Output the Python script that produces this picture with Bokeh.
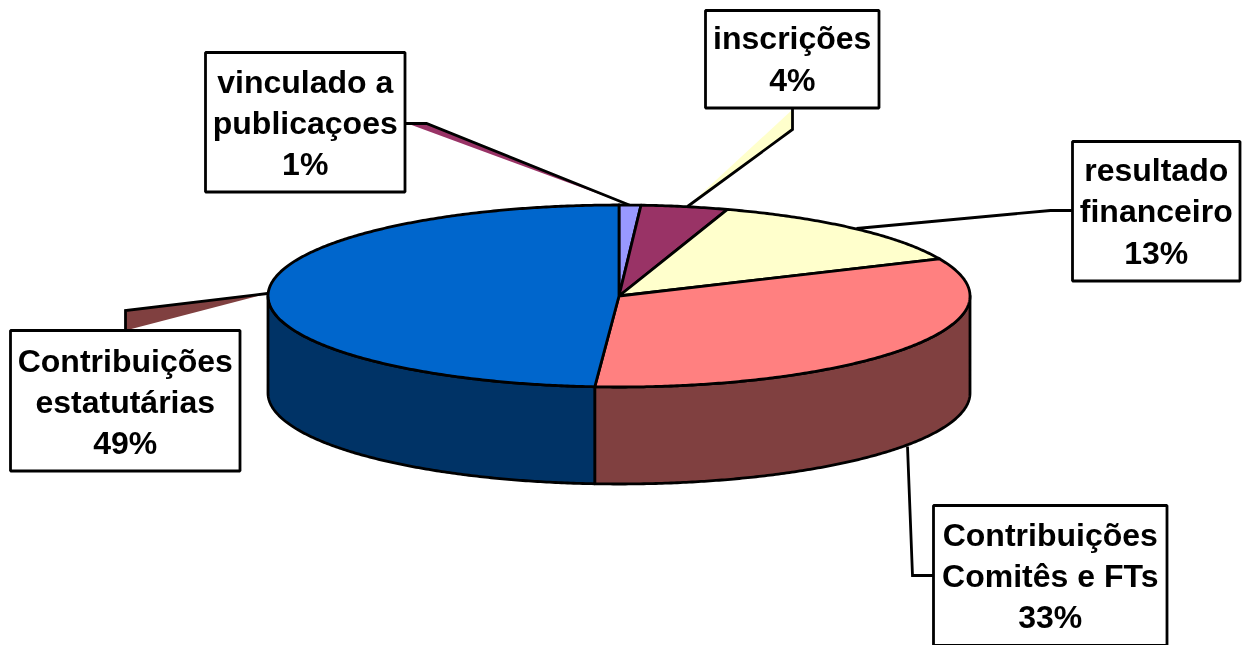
import numpy as np
from bokeh.plotting import figure
from bokeh.models import ColumnDataSource
from bokeh.core.properties import value
from bokeh.embed import file_html
from bokeh.resources import INLINE

# ---- data (clockwise from 12 o'clock) ----
names = ["vinculado a\npublicaçoes", "inscrições", "resultado\nfinanceiro",
         "Contribuições\nComitês e FTs", "Contribuições\nestatutárias"]
percent_labels = ["1%", "4%", "13%", "33%", "49%"]
shares = [1.0, 4.0, 13.3, 32.8, 48.9]
top_colors = ["#9999FF", "#993366", "#FFFFCC", "#FF8080", "#0066CC"]
side_colors = ["#4D4D80", "#4D1A33", "#808066", "#804040", "#003366"]

# ---- layout, in pixels of the page ----
W, H = 1245, 645
CX, CY, RX, RY, DEPTH = 618.5, 295.5, 351, 91, 97
LW = 2.8
box_left = [205, 705, 1072, 933, 10]
box_right = [404.5, 878.5, 1239.5, 1166.5, 239.5]
box_top = [52, 10, 141, 505, 330]
box_bottom = [191.5, 107.5, 280.5, 645, 470.5]
text_y = [122.5, 58.5, 211, 575.5, 401.5]
# callout tails: filled shape + the stroked part
tail_fill_x = [[407, 426, 630], [792, 792, 687], [125, 125, 267]]
tail_fill_y = [[123, 123, 205], [109, 129, 206], [310, 330, 293]]
tail_fill_color = ["#993366", "#FFFFCC", "#804040"]
tail_line_x = [[405, 426, 630], [792, 792, 687], [125, 125, 267],
               [856, 1050, 1072], [907, 912, 933]]
tail_line_y = [[123, 123, 205], [108, 129, 206], [330, 310, 293],
               [228, 210, 210], [446, 575, 575]]

total = sum(shares)
edges = np.radians(np.concatenate([[0], np.cumsum(shares)]) / total * 360)


def rim(a0, a1, dy=0.0):
    t = np.linspace(a0, a1, max(2, int(np.degrees(a1 - a0) * 2) + 2))
    return CX + RX * np.sin(t), CY - RY * np.cos(t) + dy


p = figure(width=W, height=H, x_range=(0, W), y_range=(H, 0),
           output_backend="svg", toolbar_location=None, min_border=0,
           styles={"position": "fixed", "left": "0", "top": "0"})
p.axis.visible = False
p.grid.visible = False
p.outline_line_color = None
p.background_fill_color = "white"

# callout tails
p.patches(tail_fill_x, tail_fill_y, fill_color=tail_fill_color, line_color=None)
p.multi_line(tail_line_x, tail_line_y, line_color="black", line_width=LW, line_join="miter")

# visible walls (front half only)
wx, wy, wc = [], [], []
for i in range(len(shares)):
    a0 = max(edges[i], np.pi / 2)
    a1 = min(edges[i + 1], 3 * np.pi / 2)
    if a1 <= a0:
        continue
    x, y = rim(a0, a1)
    xb, yb = rim(a0, a1, DEPTH)
    wx.append(np.concatenate([x, xb[::-1]]))
    wy.append(np.concatenate([y, yb[::-1]]))
    wc.append(side_colors[i])
p.patches(wx, wy, fill_color=wc, line_color="black", line_width=LW, line_join="round")

# top face
tx, ty = [], []
for i in range(len(shares)):
    x, y = rim(edges[i], edges[i + 1])
    tx.append(np.concatenate([[CX], x]))
    ty.append(np.concatenate([[CY], y]))
p.patches(tx, ty, fill_color=top_colors, line_color="black", line_width=LW, line_join="round")

# label boxes
p.quad(left=box_left, right=box_right, top=box_top, bottom=box_bottom,
       fill_color="white", line_color="black", line_width=LW)
src = ColumnDataSource(dict(
    x=[(a + b) / 2 for a, b in zip(box_left, box_right)],
    y=text_y,
    t=[f"{n}\n{q}" for n, q in zip(names, percent_labels)],
))
p.text("x", "y", text="t", source=src, text_font=value("Liberation Sans"),
       text_font_style="bold", text_font_size="32px", text_color="black",
       text_align="center", text_baseline="middle", text_line_height=1.14)

open("out.html", "w").write(file_html(p, INLINE))
